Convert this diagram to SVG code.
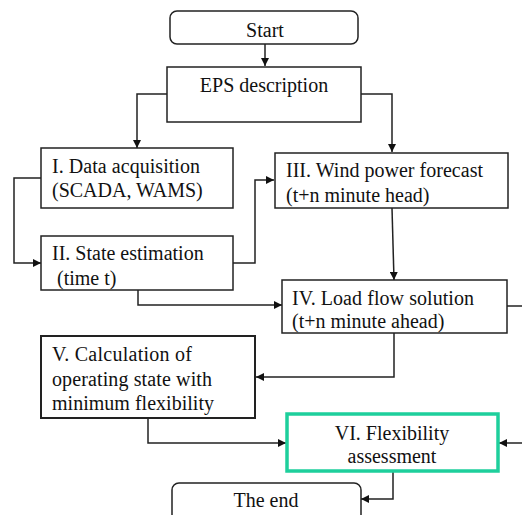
<svg xmlns="http://www.w3.org/2000/svg" width="522" height="515" viewBox="0 0 522 515">
<style>
.box{fill:#fff;stroke:#222;stroke-width:1.5}
.t{font-family:"Liberation Serif","Times New Roman",serif;font-size:20px;fill:#111}
.c{text-anchor:middle}
.ln{fill:none;stroke:#222;stroke-width:1.5}
</style>
<defs>
<marker id="a" viewBox="0 0 10 10" refX="10" refY="5" markerWidth="8" markerHeight="8" markerUnits="userSpaceOnUse" orient="auto">
<path d="M0,0L10,5L0,10z" fill="#111"/>
</marker>
</defs>
<rect width="522" height="515" fill="#fff"/>
<g id="connectors">
<path class="ln" d="M265,44V66" marker-end="url(#a)"/>
<path class="ln" d="M167,94H137V148" marker-end="url(#a)"/>
<path class="ln" d="M361,94H392V152" marker-end="url(#a)"/>
<path class="ln" d="M41,178H14V263H41" marker-end="url(#a)"/>
<path class="ln" d="M233,263H255V180H274" marker-end="url(#a)"/>
<path class="ln" d="M392,208L394,280" marker-end="url(#a)"/>
<path class="ln" d="M138,290V305H282" marker-end="url(#a)"/>
<path class="ln" d="M507,306H522"/>
<path class="ln" d="M394,333V377H256" marker-end="url(#a)"/>
<path class="ln" d="M148,418V443H286" marker-end="url(#a)"/>
<path class="ln" d="M522,443H499" marker-end="url(#a)"/>
<path class="ln" d="M393,472V499H361" marker-end="url(#a)"/>
</g>
<g id="start">
<rect class="box" x="170" y="11" width="188" height="33" rx="7"/>
<text class="t c" x="265" y="37">Start</text>
</g>
<g id="eps">
<rect class="box" x="167" y="67" width="194" height="55"/>
<text class="t c" x="264" y="92">EPS description</text>
</g>
<g id="n1">
<rect class="box" x="41" y="148" width="192" height="60"/>
<text class="t" x="52" y="173" textLength="148" lengthAdjust="spacing">I. Data acquisition</text>
<text class="t" x="52" y="197">(SCADA, WAMS)</text>
</g>
<g id="n2">
<rect class="box" x="41" y="236" width="192" height="54"/>
<text class="t" x="52" y="260">II. State estimation</text>
<text class="t" x="57" y="285">(time t)</text>
</g>
<g id="n3">
<rect class="box" x="275" y="153" width="233" height="55"/>
<text class="t" x="286" y="177" textLength="197" lengthAdjust="spacing">III. Wind power forecast</text>
<text class="t" x="286" y="202">(t+n minute head)</text>
</g>
<g id="n4">
<rect class="box" x="282" y="280" width="225" height="53"/>
<text class="t" x="292" y="305" textLength="182" lengthAdjust="spacing">IV. Load flow solution</text>
<text class="t" x="292" y="328">(t+n minute ahead)</text>
</g>
<g id="n5">
<rect class="box" x="41" y="336" width="214" height="82" style="stroke-width:2"/>
<text class="t" x="52" y="361" textLength="140" lengthAdjust="spacing">V. Calculation of</text>
<text class="t" x="52" y="386" textLength="160" lengthAdjust="spacing">operating state with</text>
<text class="t" x="52" y="410" textLength="162" lengthAdjust="spacing">minimum flexibility</text>
</g>
<g id="n6">
<rect x="287" y="414" width="211" height="57" fill="#fff" stroke="#1ecf9c" stroke-width="3.5"/>
<text class="t c" x="392" y="440">VI. Flexibility</text>
<text class="t c" x="392" y="463">assessment</text>
</g>
<g id="end">
<rect class="box" x="172" y="483" width="189" height="40" rx="7"/>
<text class="t c" x="266" y="507">The end</text>
</g>
</svg>
